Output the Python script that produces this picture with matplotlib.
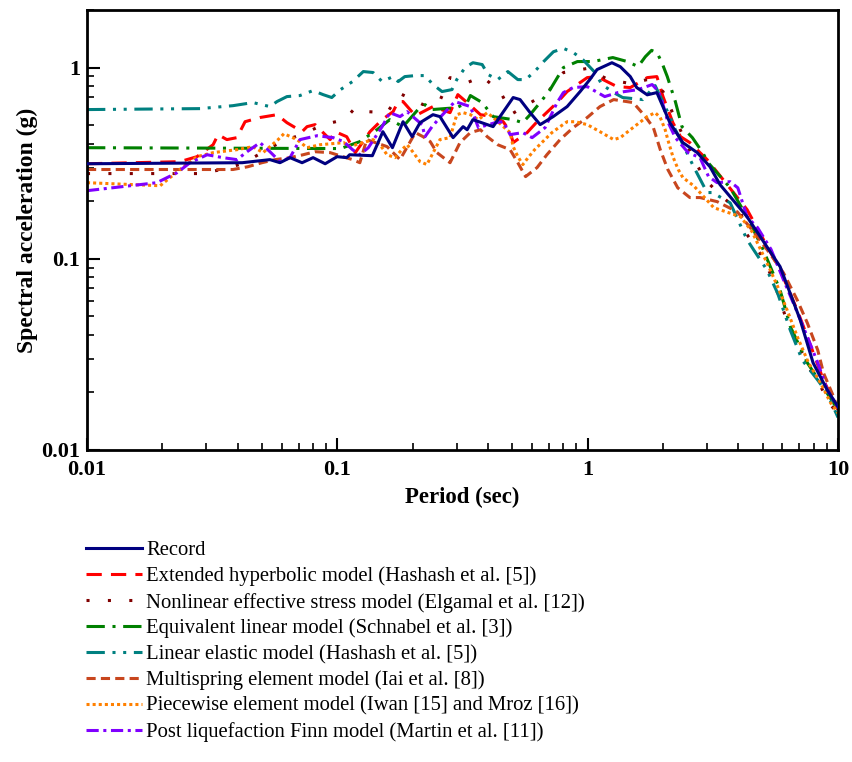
import matplotlib
matplotlib.use("Agg")
import matplotlib.pyplot as plt
from matplotlib.ticker import LogLocator, NullFormatter, FixedFormatter, FixedLocator

plt.rcParams['font.family'] = ['Liberation Serif', 'DejaVu Serif']

# period (sec) / spectral acceleration (g)
record_T = [0.01, 0.0417, 0.0538, 0.059, 0.0647, 0.0723, 0.080, 0.0894, 0.0998, 0.109,
            0.112, 0.138, 0.152, 0.166, 0.183, 0.199, 0.214, 0.241, 0.257, 0.290,
            0.318, 0.330, 0.348, 0.419, 0.504, 0.537, 0.589, 0.646, 0.728, 0.828,
            0.933, 1.02, 1.09, 1.25, 1.35, 1.48, 1.57, 1.73, 1.89, 2.13,
            2.40, 2.74, 3.08, 3.38, 4.33, 5.87, 7.06, 7.95, 9.04, 10.0]
record_Sa = [0.314, 0.318, 0.33, 0.318, 0.338, 0.318, 0.338, 0.314, 0.342, 0.338,
             0.35, 0.346, 0.462, 0.381, 0.521, 0.435, 0.515, 0.567, 0.554, 0.43,
             0.491, 0.473, 0.534, 0.491, 0.697, 0.68, 0.581, 0.503, 0.554, 0.625,
             0.749, 0.865, 0.976, 1.06, 1.01, 0.897, 0.786, 0.72, 0.74, 0.515,
             0.405, 0.359, 0.303, 0.244, 0.166, 0.091, 0.048, 0.0286, 0.0207, 0.0168]

hyper_T = [0.01, 0.0235, 0.0275, 0.0319, 0.0334, 0.0362, 0.0397, 0.0428, 0.0491, 0.0574,
           0.0629, 0.0723, 0.0757, 0.0815, 0.0936, 0.0981, 0.109, 0.118, 0.135, 0.151,
           0.167, 0.175, 0.183, 0.205, 0.241, 0.282, 0.303, 0.330, 0.373, 0.419,
           0.460, 0.490, 0.504, 0.573, 0.628, 0.755, 0.828, 0.996, 1.09, 1.31,
           1.48, 1.73, 1.89, 2.00, 2.19, 2.35, 2.56, 3.00, 4.33, 5.87,
           6.88, 7.54, 8.75, 10.0]
hyper_Sa = [0.314, 0.322, 0.342, 0.395, 0.446, 0.42, 0.43, 0.521, 0.548, 0.567,
            0.515, 0.462, 0.491, 0.503, 0.42, 0.462, 0.435, 0.359, 0.462, 0.534,
            0.588, 0.664, 0.664, 0.56, 0.625, 0.581, 0.722, 0.656, 0.567, 0.554,
            0.521, 0.462, 0.405, 0.457, 0.521, 0.656, 0.749, 0.886, 0.897, 0.795,
            0.786, 0.886, 0.897, 0.705, 0.515, 0.435, 0.405, 0.33, 0.181, 0.0875,
            0.0537, 0.0391, 0.0232, 0.0162]

effstress_T = [0.01, 0.0283, 0.0346, 0.0417, 0.050, 0.0608, 0.0723, 0.0877, 0.107, 0.118,
               0.132, 0.158, 0.178, 0.220, 0.257, 0.282, 0.330, 0.379, 0.447, 0.500,
               0.690, 0.800, 0.990, 1.21, 1.48, 1.73, 2.00, 2.62, 2.95, 3.44,
               4.08, 4.33, 4.97, 5.45, 5.87, 6.27, 6.88, 7.62, 8.52, 9.18, 10.0]
effstress_Sa = [0.279, 0.279, 0.293, 0.314, 0.359, 0.415, 0.446, 0.503, 0.534, 0.617,
                0.588, 0.581, 0.731, 0.64, 0.672, 0.886, 0.834, 0.897, 0.749, 0.574,
                0.74, 0.942, 0.988, 0.865, 0.825, 0.865, 0.749, 0.342, 0.259, 0.211,
                0.176, 0.134, 0.103, 0.080, 0.0607, 0.0466, 0.0364, 0.0272, 0.0216, 0.0176, 0.0156]

eqlin_T = [0.01, 0.103, 0.123, 0.144, 0.162, 0.183, 0.210, 0.224, 0.239, 0.300,
           0.330, 0.340, 0.379, 0.419, 0.504, 0.550, 0.589, 0.660, 0.708, 0.800,
           0.910, 1.05, 1.26, 1.44, 1.59, 1.70, 1.80, 1.89, 1.98, 2.08,
           2.24, 2.38, 2.62, 2.88, 3.03, 3.71, 4.33, 5.02, 5.87, 6.45,
           7.54, 8.52, 10.0]
eqlin_Sa = [0.381, 0.377, 0.41, 0.473, 0.534, 0.491, 0.603, 0.64, 0.603, 0.617,
            0.656, 0.714, 0.656, 0.554, 0.534, 0.515, 0.567, 0.68, 0.767, 1.0,
            1.075, 1.075, 1.128, 1.075, 1.012, 1.14, 1.23, 1.20, 1.06, 0.897,
            0.664, 0.491, 0.43, 0.359, 0.318, 0.235, 0.166, 0.112, 0.0686, 0.0442,
            0.0286, 0.0224, 0.0162]

elastic_T = [0.01, 0.0283, 0.0383, 0.046, 0.0538, 0.0574, 0.0629, 0.0709, 0.080, 0.0877,
             0.095, 0.103, 0.115, 0.127, 0.139, 0.151, 0.167, 0.175, 0.186, 0.205,
             0.224, 0.241, 0.262, 0.287, 0.300, 0.324, 0.348, 0.379, 0.400, 0.437,
             0.480, 0.526, 0.565, 0.614, 0.667, 0.730, 0.800, 0.875, 0.957, 1.07,
             1.14, 1.27, 1.38, 1.66, 1.86, 2.13, 2.24, 2.35, 2.65, 3.00,
             3.15, 3.71, 4.33, 4.59, 5.20, 5.74, 6.45, 7.20, 8.30, 9.04, 10.0]
elastic_Sa = [0.603, 0.61, 0.632, 0.656, 0.625, 0.664, 0.705, 0.714, 0.758, 0.722,
              0.697, 0.767, 0.845, 0.953, 0.942, 0.845, 0.897, 0.845, 0.897, 0.908,
              0.908, 0.815, 0.749, 0.767, 0.865, 1.0, 1.06, 1.037, 0.919, 0.865,
              0.953, 0.865, 0.865, 0.953, 1.075, 1.21, 1.26, 1.20, 1.10, 0.942,
              0.815, 0.74, 0.697, 0.68, 0.805, 0.554, 0.473, 0.42, 0.303, 0.222,
              0.222, 0.196, 0.126, 0.112, 0.0875, 0.066, 0.0423, 0.0295, 0.0232, 0.0199, 0.0148]

multi_T = [0.01, 0.0383, 0.0439, 0.050, 0.0564, 0.0647, 0.073, 0.0815, 0.0936, 0.115,
           0.123, 0.131, 0.158, 0.178, 0.205, 0.220, 0.235, 0.250, 0.282, 0.309,
           0.340, 0.373, 0.397, 0.437, 0.490, 0.526, 0.565, 0.628, 0.687, 0.776,
           0.875, 0.996, 1.12, 1.27, 1.52, 1.70, 1.83, 1.95, 2.09, 2.29,
           2.56, 2.81, 3.29, 3.96, 4.59, 5.20, 6.06, 6.88, 7.54, 8.30,
           8.75, 9.60, 10.0]
multi_Sa = [0.293, 0.293, 0.303, 0.318, 0.33, 0.338, 0.35, 0.363, 0.359, 0.33,
            0.318, 0.42, 0.386, 0.33, 0.457, 0.435, 0.41, 0.359, 0.318, 0.405,
            0.457, 0.473, 0.435, 0.395, 0.372, 0.318, 0.269, 0.30, 0.35, 0.42,
            0.485, 0.548, 0.625, 0.68, 0.656, 0.554, 0.485, 0.372, 0.293, 0.235,
            0.209, 0.209, 0.199, 0.176, 0.139, 0.112, 0.0843, 0.0607, 0.0462, 0.0333,
            0.0253, 0.019, 0.0162]

piece_T = [0.01, 0.0196, 0.0235, 0.0275, 0.0319, 0.0397, 0.046, 0.0505, 0.058, 0.0612,
           0.069, 0.0757, 0.0854, 0.106, 0.112, 0.139, 0.148, 0.158, 0.170, 0.181,
           0.190, 0.200, 0.214, 0.228, 0.239, 0.257, 0.282, 0.300, 0.318, 0.340,
           0.366, 0.397, 0.419, 0.490, 0.504, 0.526, 0.551, 0.578, 0.614, 0.662,
           0.720, 0.776, 0.828, 0.891, 0.996, 1.12, 1.27, 1.35, 1.48, 1.73,
           1.86, 1.95, 2.04, 2.09, 2.19, 2.30, 2.40, 2.65, 2.81, 3.19,
           4.08, 4.53, 5.20, 5.74, 6.27, 6.88, 7.62, 8.52, 9.35, 10.0]
piece_Sa = [0.25, 0.241, 0.293, 0.342, 0.359, 0.372, 0.386, 0.359, 0.42, 0.451,
            0.42, 0.381, 0.395, 0.405, 0.386, 0.42, 0.395, 0.35, 0.338, 0.372,
            0.395, 0.363, 0.322, 0.311, 0.35, 0.42, 0.43, 0.567, 0.581, 0.567,
            0.534, 0.581, 0.548, 0.457, 0.386, 0.342, 0.311, 0.338, 0.372, 0.41,
            0.457, 0.491, 0.521, 0.521, 0.503, 0.462, 0.42, 0.43, 0.473, 0.554,
            0.581, 0.548, 0.473, 0.42, 0.342, 0.293, 0.266, 0.241, 0.222, 0.185,
            0.166, 0.139, 0.0953, 0.0716, 0.0537, 0.0391, 0.0286, 0.0224, 0.0176, 0.0156]

finn_T = [0.01, 0.019, 0.0229, 0.0258, 0.0302, 0.0349, 0.0397, 0.0436, 0.0491, 0.0538,
          0.059, 0.0647, 0.0709, 0.0829, 0.0963, 0.106, 0.115, 0.123, 0.133, 0.151,
          0.162, 0.178, 0.190, 0.218, 0.224, 0.239, 0.257, 0.295, 0.340, 0.366,
          0.427, 0.460, 0.490, 0.550, 0.600, 0.676, 0.755, 0.800, 0.875, 0.996,
          1.17, 1.32, 1.59, 1.81, 1.92, 2.00, 2.09, 2.24, 2.52, 2.81,
          3.04, 3.29, 3.71, 3.98, 4.33, 4.78, 5.40, 6.06, 6.75, 7.54,
          8.30, 9.04, 10.0]
finn_Sa = [0.227, 0.25, 0.282, 0.318, 0.35, 0.338, 0.33, 0.363, 0.405, 0.363,
           0.322, 0.338, 0.42, 0.44, 0.43, 0.41, 0.372, 0.35, 0.381, 0.491,
           0.581, 0.554, 0.588, 0.503, 0.435, 0.491, 0.548, 0.664, 0.625, 0.485,
           0.515, 0.521, 0.446, 0.457, 0.43, 0.485, 0.656, 0.74, 0.786, 0.795,
           0.705, 0.74, 0.767, 0.815, 0.749, 0.64, 0.521, 0.43, 0.359, 0.338,
           0.269, 0.25, 0.253, 0.235, 0.166, 0.145, 0.112, 0.0775, 0.0556, 0.0391,
           0.0286, 0.0207, 0.0168]

labels = ['Record',
          'Extended hyperbolic model (Hashash et al. [5])',
          'Nonlinear effective stress model (Elgamal et al. [12])',
          'Equivalent linear model (Schnabel et al. [3])',
          'Linear elastic model (Hashash et al. [5])',
          'Multispring element model (Iai et al. [8])',
          'Piecewise element model (Iwan [15] and Mroz [16])',
          'Post liquefaction Finn model (Martin et al. [11])']

fig = plt.figure(figsize=(8.52, 7.62), dpi=100)
ax = fig.add_axes([87 / 852, 1 - 450 / 762, (838 - 87) / 852, (450 - 10) / 762])

lw = 2.2
ax.plot(record_T, record_Sa, color='#000080', lw=lw, ls='-', label=labels[0], zorder=9)
ax.plot(hyper_T, hyper_Sa, color='#ff0000', lw=lw, ls=(0, (5, 3)), label=labels[1])
ax.plot(effstress_T, effstress_Sa, color='#800000', lw=lw, ls=(0, (1, 6)), label=labels[2])
ax.plot(eqlin_T, eqlin_Sa, color='#008000', lw=lw, ls=(0, (6, 2.5, 1, 2.5)), label=labels[3])
ax.plot(elastic_T, elastic_Sa, color='#008080', lw=lw, ls=(0, (6, 2.5, 1, 2.5, 1, 2.5)), label=labels[4])
ax.plot(multi_T, multi_Sa, color='#c8461e', lw=lw, ls=(0, (3, 1.7)), label=labels[5])
ax.plot(piece_T, piece_Sa, color='#ff8000', lw=lw, ls=(0, (1, 1)), label=labels[6])
ax.plot(finn_T, finn_Sa, color='#8000ff', lw=lw, ls=(0, (4, 1.5, 1, 1.5)), label=labels[7])

ax.set_xscale('log')
ax.set_yscale('log')
ax.set_xlim(0.01, 10)
ax.set_ylim(0.01, 2)

ax.xaxis.set_major_locator(FixedLocator([0.01, 0.1, 1, 10]))
ax.xaxis.set_major_formatter(FixedFormatter(['0.01', '0.1', '1', '10']))
ax.yaxis.set_major_locator(FixedLocator([0.01, 0.1, 1]))
ax.yaxis.set_major_formatter(FixedFormatter(['0.01', '0.1', '1']))
ax.xaxis.set_minor_locator(LogLocator(base=10, subs=range(2, 10)))
ax.yaxis.set_minor_locator(LogLocator(base=10, subs=range(2, 10)))
ax.xaxis.set_minor_formatter(NullFormatter())
ax.yaxis.set_minor_formatter(NullFormatter())

ax.tick_params(which='major', direction='in', length=9, width=1.5, labelsize=16)
ax.tick_params(axis='x', which='major', pad=7.5)
ax.tick_params(axis='y', which='major', pad=5)
ax.tick_params(which='minor', direction='in', length=5, width=1.2)
for t in ax.get_xticklabels() + ax.get_yticklabels():
    t.set_fontweight('bold')
for s in ax.spines.values():
    s.set_linewidth(2)

ax.set_xlabel('Period (sec)', fontsize=16.5, fontweight='bold', labelpad=5)
ax.set_ylabel('Spectral acceleration (g)', fontsize=17, fontweight='bold', labelpad=2)

handles, labs = ax.get_legend_handles_labels()
fig.legend(handles, labs, loc='upper left', bbox_to_anchor=(86 / 852, 1 - 541 / 762),
           frameon=False, fontsize=14.9, handlelength=2.7, handletextpad=0.2,
           labelspacing=0.3, borderpad=0, borderaxespad=0)

fig.savefig('out.png', dpi=100)
